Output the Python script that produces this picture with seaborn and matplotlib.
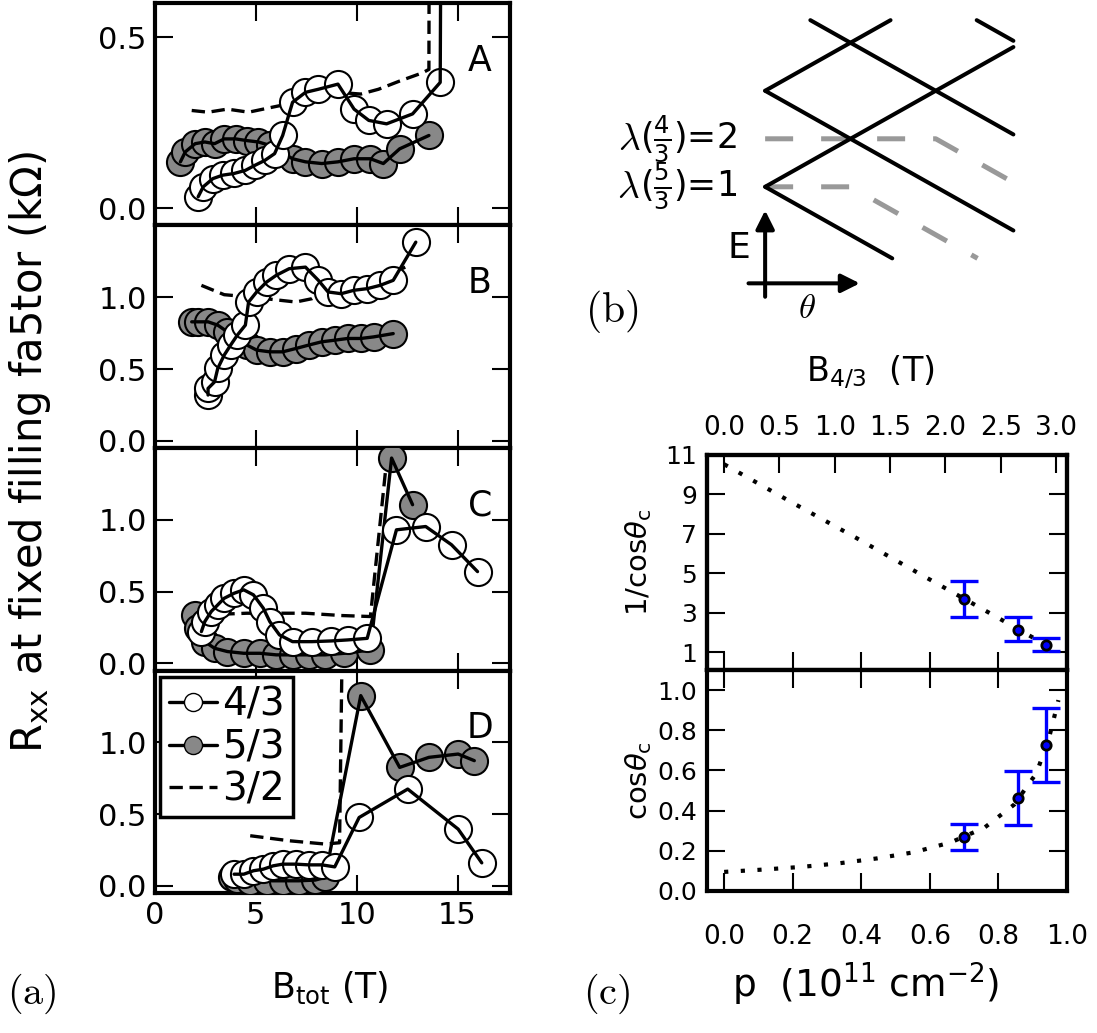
import numpy as np
import pandas as pd
import seaborn as sns
import matplotlib.pyplot as plt
from matplotlib.lines import Line2D

# ---- panel (a): R_xx vs B_tot for the three fillings, sub-panels A-D
A_43_B = [2.14, 2.39, 2.87, 3.35, 3.92, 4.48, 4.96, 5.44, 5.93, 6.33, 6.82, 7.46, 8.1, 9.07, 9.87, 10.6, 11.48, 12.77, 14.14, 14.2]
A_43_R = [0.034, 0.063, 0.087, 0.097, 0.102, 0.111, 0.126, 0.14, 0.16, 0.213, 0.31, 0.339, 0.348, 0.363, 0.29, 0.257, 0.247, 0.276, 0.368, 1.2]
A_53_B = [1.26, 1.5, 1.99, 2.47, 2.95, 3.43, 4.0, 4.56, 5.13, 5.69, 6.25, 6.82, 7.46, 8.27, 9.07, 9.87, 10.68, 11.32, 12.13, 13.58]
A_53_R = [0.136, 0.165, 0.189, 0.194, 0.189, 0.203, 0.203, 0.198, 0.194, 0.184, 0.165, 0.145, 0.136, 0.131, 0.136, 0.145, 0.145, 0.131, 0.174, 0.213]
A_32_B = [1.82, 2.63, 3.59, 4.64, 5.77, 7.0, 8.0, 9.07, 10.2, 11.08, 12.13, 13.26, 13.58, 13.6]
A_32_R = [0.286, 0.281, 0.29, 0.281, 0.295, 0.31, 0.32, 0.339, 0.334, 0.348, 0.372, 0.396, 0.406, 1.0]

B_43_B = [2.63, 2.63, 2.95, 3.11, 3.43, 3.75, 4.08, 4.48, 4.64, 5.04, 5.53, 6.01, 6.65, 7.46, 8.1, 8.58, 9.23, 9.87, 10.52, 11.16, 11.81, 12.93]
B_43_R = [0.319, 0.365, 0.41, 0.504, 0.597, 0.667, 0.736, 0.806, 0.967, 1.037, 1.106, 1.153, 1.199, 1.21, 1.118, 1.037, 1.025, 1.049, 1.06, 1.083, 1.118, 1.384]
B_53_B = [1.82, 2.14, 2.63, 3.11, 3.59, 4.08, 4.56, 5.04, 5.69, 6.33, 6.98, 7.62, 8.27, 8.91, 9.55, 10.2, 10.84, 11.81]
B_53_R = [0.829, 0.829, 0.829, 0.806, 0.759, 0.713, 0.667, 0.632, 0.62, 0.62, 0.643, 0.667, 0.69, 0.701, 0.713, 0.713, 0.724, 0.747]
B_32_B = [2.3, 3.43, 4.72, 6.98, 7.78, 8.91, 10.2, 11.48, 12.61]
B_32_R = [1.083, 1.018, 1.002, 0.967, 0.99, 1.095, 1.129, 1.153, 1.222]

C_43_B = [2.3, 2.47, 2.79, 3.11, 3.43, 3.92, 4.4, 4.88, 5.37, 5.69, 6.17, 6.82, 7.78, 8.75, 9.55, 10.52, 11.97, 13.42, 14.7, 15.99]
C_43_R = [0.221, 0.291, 0.361, 0.407, 0.453, 0.488, 0.512, 0.477, 0.384, 0.291, 0.198, 0.151, 0.151, 0.156, 0.163, 0.174, 0.93, 0.953, 0.826, 0.639]
C_53_B = [1.98, 2.14, 2.47, 2.95, 3.59, 4.4, 5.2, 6.01, 6.82, 7.62, 8.43, 9.39, 10.68, 11.73, 12.77]
C_53_R = [0.337, 0.244, 0.151, 0.105, 0.082, 0.07, 0.07, 0.059, 0.059, 0.059, 0.059, 0.07, 0.093, 1.43, 1.105]
C_32_B = [2.3, 4.56, 7.46, 9.23, 10.68, 11.48, 11.55]
C_32_R = [0.337, 0.349, 0.349, 0.333, 0.326, 1.41, 1.7]

D_43_B = [3.92, 4.4, 4.88, 5.37, 5.85, 6.33, 6.98, 7.62, 8.27, 8.91, 10.12, 12.53, 15.03, 16.2]
D_43_R = [0.081, 0.081, 0.105, 0.116, 0.139, 0.151, 0.151, 0.146, 0.146, 0.132, 0.476, 0.674, 0.395, 0.16]
D_53_B = [3.84, 4.08, 4.72, 5.53, 6.33, 7.13, 7.94, 8.43, 10.2, 12.13, 13.58, 15.03, 15.83]
D_53_R = [0.058, 0.05, 0.035, 0.035, 0.035, 0.035, 0.04, 0.058, 1.325, 0.825, 0.895, 0.918, 0.872]
D_32_B = [4.72, 6.65, 8.43, 9.15, 9.31]
D_32_R = [0.349, 0.314, 0.291, 0.3, 2.0]

panel_names = ['A', 'B', 'C', 'D']
panel_data = {
    'A': (A_43_B, A_43_R, A_53_B, A_53_R, A_32_B, A_32_R),
    'B': (B_43_B, B_43_R, B_53_B, B_53_R, B_32_B, B_32_R),
    'C': (C_43_B, C_43_R, C_53_B, C_53_R, C_32_B, C_32_R),
    'D': (D_43_B, D_43_R, D_53_B, D_53_R, D_32_B, D_32_R),
}
legend_labels = ['4/3', '5/3', '3/2']

# ---- panel (c): critical angle vs density
p_meas = [0.70, 0.858, 0.939]
inv_cos = [3.7, 2.15, 1.35]
inv_cos_lo = [2.8, 1.55, 1.05]
inv_cos_hi = [4.6, 2.8, 1.7]
cos_meas = [0.27, 0.465, 0.725]
cos_lo = [0.205, 0.33, 0.545]
cos_hi = [0.335, 0.595, 0.91]
p_fit_top = [0.0, 0.194, 0.388, 0.58, 0.771, 0.964]
inv_fit = [10.53, 8.63, 6.77, 4.88, 3.02, 1.12]
p_fit_bot = [0.0, 0.117, 0.226, 0.336, 0.445, 0.554, 0.661, 0.759, 0.846, 0.911, 0.948, 0.975]
cos_fit = [0.095, 0.107, 0.12, 0.138, 0.162, 0.193, 0.242, 0.315, 0.43, 0.587, 0.765, 0.95]
b43_ticks = [0.0, 0.5, 1.0, 1.5, 2.0, 2.5, 3.0]

# ---- panel (b): level diagram (theta, E in schematic units)
solid_x = [[0, 2.91], [0, 1.47], [0, 2.91], [0, 1.49], [0.53, 2.91], [2.48, 2.91]]
solid_y = [[0, 2.91], [2, 3.47], [2, -0.91], [0, -1.49], [3.47, 1.09], [3.47, 3.04]]
gray_x = [[0, 2, 2.91], [0, 1, 2.49]]
gray_y = [[1, 1, 0.09], [0, 0, -1.49]]

sns.set_style('ticks')
plt.rcParams.update({
    'font.family': ['DejaVu Sans'],
    'text.color': 'k', 'axes.labelcolor': 'k',
    'axes.linewidth': 3,
    'xtick.direction': 'in', 'ytick.direction': 'in',
    'xtick.top': True, 'ytick.right': True,
    'xtick.major.size': 13, 'ytick.major.size': 13,
    'xtick.major.width': 1.5, 'ytick.major.width': 1.5,
    'xtick.color': 'k', 'ytick.color': 'k',
    'axes.edgecolor': 'k',
})

fig = plt.figure(figsize=(10.97, 10.33), dpi=100)

W, H = 1097.0, 1033.0
ax_left, ax_right = 155 / W, 510 / W
top_px, bot_px = 3, 893
h_px = (bot_px - top_px) / 4
axes_a = []
for i, name in enumerate(panel_names):
    y0 = 1 - (top_px + (i + 1) * h_px) / H
    ax = fig.add_axes([ax_left, y0, ax_right - ax_left, h_px / H])
    axes_a.append(ax)
    b43, r43, b53, r53, b32, r32 = panel_data[name]
    sns.lineplot(x=b32, y=r32, ax=ax, sort=False, estimator=None, color='k',
                 lw=2.4, linestyle=(0, (4, 2)), zorder=2)
    sns.scatterplot(x=b53, y=r53, ax=ax, s=380, color='#888888', edgecolor='k',
                    linewidth=1.5, zorder=3)
    sns.lineplot(x=b53, y=r53, ax=ax, sort=False, estimator=None, color='k', lw=2.4, zorder=4)
    sns.scatterplot(x=b43, y=r43, ax=ax, s=380, color='white', edgecolor='k',
                    linewidth=1.5, zorder=5)
    sns.lineplot(x=b43, y=r43, ax=ax, sort=False, estimator=None, color='k', lw=2.4, zorder=6)
    ax.set_xlim(0.45, 17.6)
    ax.set_xticks([0, 5, 10, 15])
    if name == 'A':
        ax.set_ylim(-0.05, 0.6)
        ax.set_yticks([0.0, 0.5])
    else:
        ax.set_ylim(-0.05, 1.5)
        ax.set_yticks([0.0, 0.5, 1.0])
    ax.set_xlabel('')
    ax.set_ylabel('')
    ax.tick_params(labelsize=22, pad=6)
    if name != 'D':
        ax.tick_params(labelbottom=False)
    ax.text(0.915, 0.74, name, transform=ax.transAxes, fontsize=25, ha='center', va='center')

handles = [
    Line2D([], [], color='k', lw=2.4, marker='o', markersize=13, markerfacecolor='white', markeredgecolor='k'),
    Line2D([], [], color='k', lw=2.4, marker='o', markersize=13, markerfacecolor='#888888', markeredgecolor='k'),
    Line2D([], [], color='k', lw=2.4, linestyle=(0, (4, 2))),
]
leg = axes_a[3].legend(handles, legend_labels, loc='upper left', bbox_to_anchor=(0.014, 0.971),
                       borderaxespad=0, fontsize=28, handlelength=1.25, handletextpad=0.12,
                       labelspacing=0.12, borderpad=0.22, fancybox=False, framealpha=1)
leg.get_frame().set_edgecolor('k')
leg.get_frame().set_linewidth(2.5)

fig.text(30 / W, 1 - 452 / H, r'R$_{\rm xx}$ at fixed filling fa5tor (k$\Omega$)', rotation=90,
         fontsize=30, ha='center', va='center')
fig.text(330 / W, 1 - 988 / H, r'B$_{\rm tot}$ (T)', fontsize=25, ha='center', va='center')
fig.text(32 / W, 1 - 994 / H, r'$\mathrm{(a)}$', math_fontfamily='cm', fontsize=29, ha='center', va='center')
fig.text(607 / W, 1 - 994 / H, r'$\mathrm{(c)}$', math_fontfamily='cm', fontsize=29, ha='center', va='center')

# ---- panel (b)
axb = fig.add_axes([580 / W, 1 - 340 / H, 517 / W, 340 / H])
axb.set_xlim(-2.17, 3.89)
axb.set_ylim(-3.19, 3.89)
axb.axis('off')
for xs, ys in zip(gray_x, gray_y):
    sns.lineplot(x=xs, y=ys, ax=axb, sort=False, estimator=None, color='#999999', lw=3.6,
                 linestyle=(0, (5.6, 5.6)))
for xs, ys in zip(solid_x, solid_y):
    sns.lineplot(x=xs, y=ys, ax=axb, sort=False, estimator=None, color='k', lw=2.9)
arrow = dict(arrowstyle='-|>', lw=2.9, color='k', mutation_scale=28, shrinkA=0, shrinkB=0)
axb.annotate('', xy=(0, -0.49), xytext=(0, -2.29), arrowprops=arrow)
axb.annotate('', xy=(1.11, -2.01), xytext=(-0.195, -2.01), arrowprops=arrow)
for lev, frac in [(1, r'$(\frac{4}{3})$=2'), (0, r'$(\frac{5}{3})$=1')]:
    t = axb.text(-0.33, lev, frac, fontsize=25, ha='right', va='center')
    axb.annotate(r'$\lambda$', xy=(0, 0.47), xycoords=t, math_fontfamily='cm', fontsize=27,
                 ha='right', va='center')
axb.text(-0.18, -1.28, 'E', fontsize=26, ha='right', va='center')
axb.text(0.49, -2.52, r'$\theta$', math_fontfamily='cm', fontsize=25, ha='center', va='center')
axb.text(-1.8, -2.6, r'$\mathrm{(b)}$', math_fontfamily='cm', fontsize=30, ha='center', va='center')

# ---- panel (c)
cl, cw = 707 / W, 360 / W
axc1 = fig.add_axes([cl, 1 - 670 / H, cw, 215 / H])
axc2 = fig.add_axes([cl, 1 - 891 / H, cw, 221 / H])
for ax in (axc1, axc2):
    ax.set_xlim(-0.05, 1.0)
    ax.set_xticks([0.0, 0.2, 0.4, 0.6, 0.8, 1.0])
    ax.tick_params(labelsize=18, pad=7)
axc2.tick_params(axis='x', pad=24, labelsize=19)

sns.lineplot(x=p_fit_top, y=inv_fit, ax=axc1, sort=False, estimator=None, color='k', lw=3,
             linestyle=(0, (1, 3)))
err = [np.subtract(inv_cos, inv_cos_lo), np.subtract(inv_cos_hi, inv_cos)]
axc1.errorbar(p_meas, inv_cos, yerr=err, fmt='none', ecolor='blue', elinewidth=2.4, capsize=10,
              capthick=2.4)
sns.scatterplot(x=p_meas, y=inv_cos, ax=axc1, s=45, color='blue', edgecolor='k', linewidth=2, zorder=5)
axc1.set_ylim(0.1, 11)
axc1.set_yticks([1, 3, 5, 7, 9, 11])
axc1.tick_params(top=False, labelbottom=False)
axc1.set_ylabel(r'1/cos$\theta_{\rm c}$', fontsize=21)

sns.lineplot(x=p_fit_bot, y=cos_fit, ax=axc2, sort=False, estimator=None, color='k', lw=3,
             linestyle=(0, (1, 3)))
err2 = [np.subtract(cos_meas, cos_lo), np.subtract(cos_hi, cos_meas)]
axc2.errorbar(p_meas, cos_meas, yerr=err2, fmt='none', ecolor='blue', elinewidth=2.4, capsize=10,
              capthick=2.4)
sns.scatterplot(x=p_meas, y=cos_meas, ax=axc2, s=45, color='blue', edgecolor='k', linewidth=2, zorder=5)
axc2.set_ylim(0.0, 1.1)
axc2.set_yticks([0.0, 0.2, 0.4, 0.6, 0.8, 1.0])
axc2.set_ylabel(r'cos$\theta_{\rm c}$', fontsize=21)
axc2.set_xlabel(r'p  (10$^{11}$ cm$^{-2}$)', fontsize=27)

for ax in (axc1, axc2):
    ax.yaxis.set_label_coords(-0.19, 0.5)
    ax.yaxis.label.set_va('center')
axc2.xaxis.set_label_coords(0.44, -0.425)
axc2.xaxis.label.set_va('center')

twin = axc1.twiny()
scale = 3.0 / 0.968
twin.set_xlim(-0.05 * scale, 1.0 * scale)
twin.set_xticks(b43_ticks)
twin.tick_params(direction='in', labelsize=19, length=13, width=1.5, pad=10)
twin.set_xlabel(r'B$_{4/3}$  (T)', fontsize=24)
twin.xaxis.set_label_coords(0.453, 1.386)
twin.xaxis.label.set_va('center')

fig.savefig('out.png', dpi=100)
